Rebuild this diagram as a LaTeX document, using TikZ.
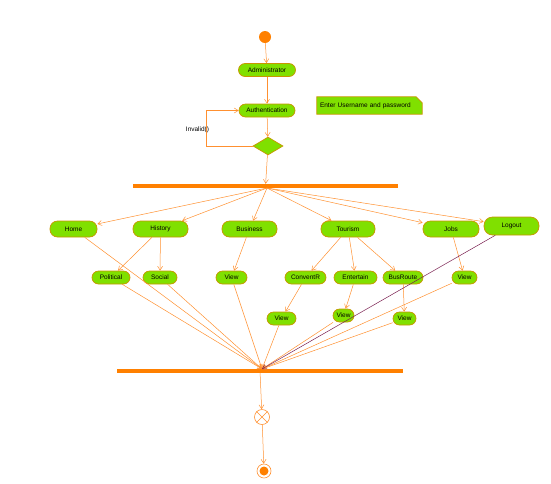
\documentclass[tikz,border=0pt]{standalone}
\usepackage{fontspec}
\setsansfont{Liberation Sans}
\usepackage{tikz}
\usetikzlibrary{arrows.meta, shapes.geometric, backgrounds}

\definecolor{actfill}{HTML}{80E000}
\definecolor{actline}{HTML}{C89600}
\definecolor{flowline}{HTML}{FF9030}
\definecolor{barorange}{HTML}{FF8000}
\definecolor{logoutline}{HTML}{7A2050}

\begin{document}
\begin{tikzpicture}[x=1pt, y=-1pt,
    act/.style={rounded corners=6.5pt, draw=actline, fill=actfill, line width=0.7pt, minimum height=13pt, inner sep=0pt, font=\sffamily\fontsize{6.5}{7.5}\selectfont},
    bigact/.style={act, minimum height=16pt, rounded corners=7.5pt},
    bar/.style={fill=barorange, minimum height=4pt, inner sep=0pt},
    flow/.style={draw=flowline, line width=0.5pt, -{Straight Barb[length=4pt, width=5pt]}}]
            \useasboundingbox (0, 0) rectangle (551, 483);

            \node[circle, fill=barorange, minimum size=12pt, inner sep=0pt] at (265, 37) (start) {};
            \node[act, minimum width=57pt] at (267, 70)    (admin) {Administrator};
            \node[act, minimum width=56pt] at (267, 110.5) (auth)  {Authentication};
            \node[diamond, draw=actline, fill=actfill, line width=0.7pt, minimum width=30pt, minimum height=18pt, inner sep=0pt] at (268, 146) (dec) {};
            \node[font=\sffamily\fontsize{6.5}{7.5}\selectfont, text width=99pt, align=left, minimum height=17pt, inner sep=3pt] at (369.5, 105.5) (note) {Enter Username and password};
            \begin{scope}[on background layer]
                \filldraw[draw=actline, fill=actfill, line width=0.7pt] (note.south west) -- (note.north west) -- ([xshift=-6pt]note.north east) -- ([yshift=-6pt]note.north east) -- (note.south east) -- cycle;
            \end{scope}
            \node[font=\sffamily\fontsize{6.5}{7.5}\selectfont, inner sep=0pt] at (197.5, 130) (invalid) {Invalid()};
            \coordinate (loopc) at (206, 146);

            \node[bar, minimum width=265pt] at (265.5, 186) (fork) {};
            \coordinate (fk) at (267, 188);

            \node[bigact, minimum width=47pt] at (73.5, 229)  (home)     {Home};
            \node[bigact, minimum width=55pt] at (160.5, 229) (history)  {History};
            \node[bigact, minimum width=55pt] at (249.5, 229) (business) {Business};
            \node[bigact, minimum width=54pt] at (348, 229)   (tourism)  {Tourism};
            \node[bigact, minimum width=56pt] at (451, 229)   (jobs)     {Jobs};
            \node[bigact, minimum width=55pt, minimum height=18pt, rounded corners=8.5pt] at (511.5, 226) (logout) {Logout};

            \node[act, minimum width=38pt] at (111, 277.5)   (political) {Political};
            \node[act, minimum width=34pt] at (160, 277.5)   (social)    {Social};
            \node[act, minimum width=31pt] at (231.5, 277.5) (viewbus)   {View};
            \node[act, minimum width=41pt] at (305.5, 277.5) (convent)   {ConventR};
            \node[act, minimum width=43pt] at (355.5, 277.5) (entertain) {Entertain};
            \node[act, minimum width=40pt] at (403, 277.5)   (busroute)  {BusRoute};
            \node[act, minimum width=25pt] at (464.5, 277.5) (viewjobs)  {View};

            \node[act, minimum width=29pt] at (281.5, 318.5) (viewconv) {View};
            \node[act, minimum width=21pt] at (343.5, 315.5) (viewent)  {View};
            \node[act, minimum width=23pt] at (404.5, 318.5) (viewbusr) {View};

            \node[bar, minimum width=286pt] at (260, 371) (join) {};
            \coordinate (jn) at (262, 369);

            \node[circle, draw=flowline, fill=white, line width=0.6pt, minimum size=15pt, inner sep=0pt] at (262, 417) (ff) {};
            \draw[draw=flowline, line width=0.6pt] (ff.north west) -- (ff.south east) (ff.north east) -- (ff.south west);
            \node[circle, draw=flowline, fill=white, line width=0.6pt, minimum size=14pt, inner sep=0pt] at (264, 471) (end) {};
            \fill[barorange] (end) circle (4.5pt);

            \draw[flow] (start) -- (admin);
            \draw[flow] (admin) -- (auth);
            \draw[flow] (auth) -- (dec);
            \draw[flow] (dec.west) -- (loopc) |- (auth);
            \draw[flow] (dec) -- (fork);
            \foreach \t in {home, history, business, tourism, jobs, logout}
                \draw[flow] (fk) -- (\t);

            \draw[flow] (history) -- (political);
            \draw[flow] (history) -- (social);
            \draw[flow] (business) -- (viewbus);
            \draw[flow] (tourism) -- (convent);
            \draw[flow] (tourism) -- (entertain);
            \draw[flow] (tourism) -- (busroute);
            \draw[flow] (jobs) -- (viewjobs);
            \draw[flow] (convent) -- (viewconv);
            \draw[flow] (entertain) -- (viewent);
            \draw[flow] (busroute) -- (viewbusr);

            \foreach \s in {home, political, social, viewbus, viewconv, viewent, viewbusr, viewjobs}
                \draw[flow] (\s) -- (jn);
            \draw[flow, draw=logoutline] (logout) -- (jn);

            \draw[flow] (join) -- (ff);
            \draw[flow] (ff) -- (end);
        \end{tikzpicture}
\end{document}
